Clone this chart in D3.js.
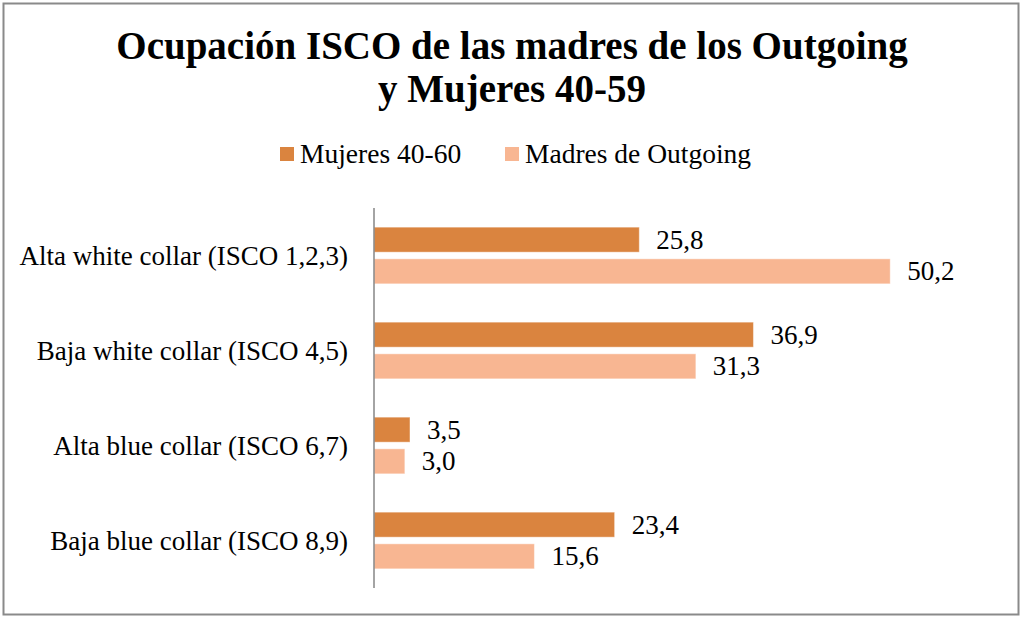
<!DOCTYPE html>
<html lang="es">
<head>
<meta charset="utf-8">
<title>Ocupación ISCO</title>
<style>
  body { margin: 0; background: #fff; }
  text { font-family: "Liberation Serif", "Times New Roman", serif; fill: #000; }
</style>
</head>
<body>
<div id="wrapper"></div>
<script src="https://cdn.jsdelivr.net/npm/d3@7"></script>
<script>
const categories = [
  "Alta white collar (ISCO 1,2,3)",
  "Baja white collar (ISCO 4,5)",
  "Alta blue collar (ISCO 6,7)",
  "Baja blue collar (ISCO 8,9)"
]
const seriesNames = ["Mujeres 40-60", "Madres de Outgoing"]
const mujeres = [25.8, 36.9, 3.5, 23.4]
const madres = [50.2, 31.3, 3.0, 15.6]
const colors = ["#da843f", "#f8b692"]

const titleLines = ["Ocupación ISCO de las madres de los Outgoing", "y Mujeres 40-59"]

function drawChart() {
  const width = 1021
  const height = 617
  const plot = { left: 374, right: 991, top: 208, bottom: 588 }

  const rows = categories.map((c, i) => ({ category: c, values: [mujeres[i], madres[i]] }))

  const svg = d3.select("#wrapper")
    .append("svg")
    .attr("width", width)
    .attr("height", height)

  // chart border
  svg.append("rect")
    .attr("x", 3.5)
    .attr("y", 3.5)
    .attr("width", 1015)
    .attr("height", 611)
    .attr("fill", "#fff")
    .attr("stroke", "#8a8a8a")
    .attr("stroke-width", 2)

  // title
  svg.append("text")
    .attr("text-anchor", "middle")
    .style("font-size", "39px")
    .style("font-weight", "bold")
    .selectAll("tspan")
    .data(titleLines)
    .join("tspan")
    .attr("x", 512)
    .attr("y", (d, i) => 59 + i * 42.5)
    .text(d => d)

  // legend
  const legendX = [280, 505]
  const legend = svg.append("g")
  seriesNames.forEach((name, i) => {
    legend.append("rect")
      .attr("x", legendX[i])
      .attr("y", 147)
      .attr("width", 14)
      .attr("height", 14)
      .attr("fill", colors[i])
    legend.append("text")
      .attr("x", legendX[i] + 20)
      .attr("y", 163)
      .style("font-size", "27.5px")
      .text(name)
  })

  const x = d3.scaleLinear()
    .domain([0, 60])
    .range([plot.left, plot.right])

  const y = d3.scaleBand()
    .domain(categories)
    .range([plot.top, plot.bottom])
    .paddingInner(0.403)
    .paddingOuter(0.2015)

  const ySub = d3.scaleBand()
    .domain(d3.range(seriesNames.length))
    .range([0, y.bandwidth()])
    .paddingInner(0.21)

  const groups = svg.append("g")
    .selectAll("g")
    .data(rows)
    .join("g")
    .attr("transform", d => `translate(0,${y(d.category)})`)

  groups.selectAll("rect")
    .data(d => d.values)
    .join("rect")
    .attr("x", x(0))
    .attr("y", (d, i) => ySub(i))
    .attr("width", d => x(d) - x(0))
    .attr("height", ySub.bandwidth())
    .attr("fill", (d, i) => colors[i])
    .attr("stroke", "rgba(255,255,255,0.45)")
    .attr("stroke-width", 1)

  groups.selectAll("text")
    .data(d => d.values)
    .join("text")
    .attr("x", d => x(d) + 17)
    .attr("y", (d, i) => ySub(i) + ySub.bandwidth() / 2 + 9)
    .style("font-size", "27px")
    .text(d => d3.format(".1f")(d).replace(".", ","))

  // category axis
  const yAxis = svg.append("g")
    .attr("transform", `translate(${plot.left},0)`)
    .call(d3.axisLeft(y).tickSize(0).tickPadding(26))
  yAxis.select(".domain")
    .attr("d", `M0,${plot.top}V${plot.bottom}`)
    .attr("stroke", "#868686")
    .attr("stroke-width", 1.5)
  yAxis.selectAll(".tick text")
    .attr("dy", null)
    .attr("y", 9)
    .style("font-family", "'Liberation Serif', serif")
    .style("font-size", "27px")
    .attr("fill", "#000")
}
drawChart()
</script>
</body>
</html>
